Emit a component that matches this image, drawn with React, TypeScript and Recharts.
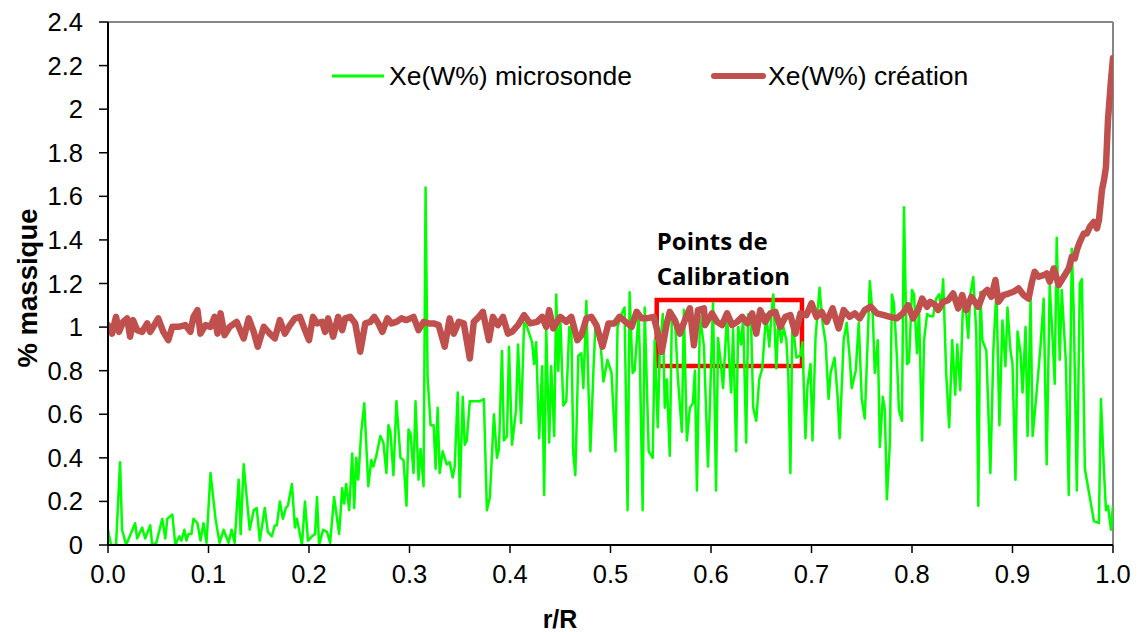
import React from 'react';
import { LineChart, Line, XAxis, YAxis, ReferenceLine, ReferenceArea, Legend } from 'recharts';

// ---- Data ----
const greenX = [
  0.000, 0.003, 0.008, 0.012, 0.014, 0.018, 0.027, 0.029, 0.034, 0.037, 0.042, 0.044, 0.048, 0.054, 0.057, 0.059,
  0.064, 0.067, 0.071, 0.073, 0.076, 0.078, 0.080, 0.083, 0.085, 0.089, 0.092, 0.095, 0.098, 0.102, 0.107, 0.111,
  0.115, 0.120, 0.123, 0.126, 0.130, 0.132, 0.135, 0.141, 0.145, 0.148, 0.151, 0.156, 0.159, 0.163, 0.166, 0.168,
  0.171, 0.174, 0.177, 0.179, 0.183, 0.186, 0.188, 0.193, 0.196, 0.199,
  0.203, 0.206, 0.208, 0.210, 0.214, 0.218, 0.221, 0.225, 0.230, 0.233, 0.235, 0.237, 0.240, 0.243, 0.245, 0.247,
  0.249, 0.252, 0.255, 0.259, 0.262, 0.264, 0.267, 0.271, 0.274, 0.277, 0.279, 0.281, 0.284, 0.287, 0.291, 0.294,
  0.297, 0.299, 0.301, 0.304, 0.306, 0.309, 0.311, 0.314, 0.316, 0.318, 0.321, 0.324, 0.326, 0.328, 0.330, 0.333,
  0.337, 0.340, 0.343, 0.345, 0.348, 0.350, 0.353, 0.355, 0.357, 0.360, 0.370, 0.374, 0.377, 0.380, 0.384, 0.387,
  0.389, 0.392, 0.394, 0.397, 0.399,
  0.402, 0.406, 0.408, 0.411, 0.414, 0.417, 0.422, 0.424, 0.426, 0.429, 0.432, 0.434, 0.436, 0.439, 0.441, 0.444,
  0.446, 0.448, 0.450, 0.453, 0.456, 0.459, 0.461, 0.463, 0.465, 0.468, 0.471, 0.473, 0.476, 0.478, 0.480, 0.483,
  0.485, 0.490, 0.493, 0.497, 0.501, 0.505, 0.507, 0.511, 0.514, 0.517, 0.519, 0.522, 0.524, 0.528, 0.529, 0.532,
  0.534, 0.538, 0.542, 0.544, 0.547, 0.549, 0.552, 0.554, 0.556, 0.559, 0.561, 0.564, 0.567, 0.571, 0.573, 0.576,
  0.579, 0.582, 0.584, 0.586, 0.589, 0.593, 0.597,
  0.602, 0.605, 0.607, 0.610, 0.612, 0.616, 0.618, 0.620, 0.622, 0.625, 0.627, 0.630, 0.632, 0.635, 0.637, 0.640,
  0.642, 0.645, 0.648, 0.651, 0.653, 0.655, 0.658, 0.660, 0.662, 0.665, 0.667, 0.670, 0.672, 0.675, 0.677, 0.679,
  0.681, 0.685, 0.689, 0.691, 0.694, 0.696, 0.699, 0.701, 0.704, 0.708, 0.711, 0.714, 0.717, 0.719, 0.723, 0.726,
  0.728, 0.732, 0.735, 0.738, 0.740, 0.744, 0.747, 0.750, 0.753, 0.756, 0.758, 0.761, 0.763, 0.766, 0.768, 0.771,
  0.773, 0.775, 0.778, 0.780, 0.782, 0.785, 0.787, 0.790, 0.792,
  0.795, 0.797, 0.800, 0.802, 0.805, 0.807, 0.810, 0.812, 0.815, 0.818, 0.821, 0.824, 0.827, 0.829, 0.831, 0.834,
  0.837, 0.840, 0.843, 0.845, 0.848, 0.851, 0.854, 0.856, 0.858, 0.861, 0.864, 0.866, 0.868, 0.870, 0.874, 0.878,
  0.881, 0.884, 0.887, 0.890, 0.893, 0.895, 0.898, 0.900, 0.903, 0.905, 0.908, 0.910, 0.913, 0.915, 0.918, 0.920,
  0.924, 0.928, 0.931, 0.934, 0.937, 0.940, 0.942, 0.944, 0.947, 0.949, 0.953, 0.956, 0.959, 0.961, 0.964, 0.967,
  0.969, 0.972, 0.981, 0.986, 0.988, 0.991, 0.993, 0.995, 0.998, 1.000,
];
const greenY = [
  0.07, 0.00, 0.00, 0.38, 0.07, 0.00, 0.10, 0.03, 0.08, 0.03, 0.09, 0.00, 0.01, 0.12, 0.03, 0.12,
  0.14, 0.00, 0.04, 0.02, 0.07, 0.02, 0.05, 0.05, 0.12, 0.10, 0.02, 0.10, 0.01, 0.33, 0.12, 0.01,
  0.07, 0.01, 0.07, 0.01, 0.30, 0.05, 0.37, 0.07, 0.16, 0.17, 0.02, 0.17, 0.06, 0.04, 0.09, 0.09,
  0.20, 0.12, 0.17, 0.18, 0.28, 0.08, 0.12, 0.00, 0.20, 0.02,
  0.04, 0.05, 0.22, 0.00, 0.07, 0.06, 0.01, 0.22, 0.05, 0.26, 0.19, 0.28, 0.16, 0.42, 0.17, 0.40,
  0.30, 0.52, 0.65, 0.27, 0.39, 0.36, 0.41, 0.50, 0.47, 0.33, 0.55, 0.52, 0.32, 0.66, 0.40, 0.39,
  0.18, 0.53, 0.51, 0.33, 0.66, 0.30, 0.44, 0.27, 1.64, 0.77, 0.55, 0.55, 0.35, 0.63, 0.33, 0.43,
  0.37, 0.38, 0.31, 0.36, 0.70, 0.22, 0.68, 0.46, 0.48, 0.66, 0.66, 0.67, 0.16, 0.22, 0.60, 0.40,
  0.44, 0.89, 0.48, 0.50, 0.91,
  0.46, 0.62, 0.92, 0.56, 1.02, 1.00, 0.93, 0.83, 0.93, 0.49, 0.82, 0.23, 1.00, 0.47, 0.82, 0.50,
  1.15, 0.80, 1.05, 0.64, 0.66, 1.00, 1.00, 0.42, 0.32, 0.87, 0.88, 0.72, 1.12, 0.73, 0.43, 0.80,
  1.01, 0.93, 0.75, 0.85, 0.79, 0.43, 1.00, 1.06, 1.09, 0.16, 1.16, 0.79, 0.80, 1.06, 0.90, 0.16,
  1.09, 0.43, 0.40, 0.94, 0.54, 0.88, 1.06, 0.63, 0.76, 0.41, 1.04, 1.05, 0.77, 0.52, 1.08, 0.48,
  0.63, 0.65, 0.80, 0.25, 1.05, 0.91, 0.36,
  1.11, 0.25, 0.95, 0.82, 0.72, 1.06, 0.86, 0.70, 0.99, 0.43, 1.00, 0.92, 1.05, 0.47, 1.06, 1.00,
  0.63, 0.57, 0.76, 0.81, 0.94, 1.06, 0.91, 1.05, 1.15, 0.81, 1.03, 0.93, 1.00, 0.94, 0.77, 0.33,
  1.03, 0.86, 0.87, 0.93, 0.49, 0.73, 0.83, 0.48, 0.95, 1.18, 1.02, 0.93, 0.67, 0.79, 0.86, 0.68,
  0.49, 0.94, 1.02, 0.86, 0.72, 0.80, 1.02, 0.67, 0.58, 0.95, 1.21, 1.05, 0.79, 0.94, 0.45, 0.68,
  0.62, 0.21, 0.47, 1.15, 1.11, 0.86, 0.62, 0.57, 1.55,
  0.83, 0.84, 1.17, 1.15, 0.88, 1.08, 0.48, 0.94, 1.06, 1.05, 1.05, 1.13, 1.15, 1.08, 1.22, 0.79,
  0.54, 0.94, 0.69, 0.92, 0.71, 1.15, 1.06, 0.95, 1.15, 1.23, 0.97, 0.18, 1.16, 0.94, 0.89, 0.33,
  0.90, 1.17, 0.55, 1.03, 0.82, 1.09, 0.89, 0.83, 0.30, 0.98, 0.88, 0.70, 1.00, 0.50, 1.13, 0.50,
  0.70, 0.92, 1.13, 0.37, 1.19, 0.94, 0.74, 1.41, 0.85, 1.17, 0.85, 0.23, 1.36, 1.06, 0.25, 1.20,
  1.22, 0.35, 0.11, 0.10, 0.67, 0.34, 0.16, 0.18, 0.07, 0.18,
];

const brownX = [
  0.000, 0.004, 0.008, 0.011, 0.015, 0.019, 0.022, 0.025, 0.029, 0.034, 0.039, 0.042, 0.045, 0.050, 0.055, 0.060,
  0.064, 0.070, 0.077, 0.082, 0.085, 0.089, 0.092, 0.097, 0.102, 0.106, 0.109, 0.112, 0.116, 0.121, 0.128, 0.135,
  0.140, 0.145, 0.149, 0.155, 0.161, 0.166, 0.171, 0.176, 0.181, 0.186, 0.191, 0.196, 0.200,
  0.204, 0.208, 0.213, 0.216, 0.219, 0.224, 0.229, 0.233, 0.236, 0.241, 0.246, 0.251, 0.256, 0.261, 0.265, 0.269,
  0.273, 0.278, 0.282, 0.287, 0.292, 0.297, 0.304, 0.309, 0.314, 0.319, 0.324, 0.329, 0.335, 0.340, 0.344, 0.349,
  0.354, 0.360, 0.364, 0.369, 0.373, 0.379, 0.383, 0.388, 0.393, 0.398,
  0.402, 0.408, 0.414, 0.420, 0.427, 0.432, 0.436, 0.439, 0.443, 0.450, 0.456, 0.461, 0.467, 0.471, 0.476, 0.481,
  0.486, 0.492, 0.498, 0.504, 0.509, 0.515, 0.521, 0.526, 0.531, 0.536, 0.543, 0.546, 0.551, 0.556, 0.559, 0.564,
  0.569, 0.574, 0.579, 0.583, 0.587, 0.593,
  0.594, 0.601, 0.606, 0.611, 0.616, 0.621, 0.626, 0.631, 0.636, 0.641, 0.645, 0.649, 0.654, 0.659, 0.664, 0.669,
  0.674, 0.679, 0.684, 0.689, 0.695, 0.700, 0.705, 0.710, 0.715, 0.721, 0.727, 0.732, 0.738, 0.743, 0.748, 0.753,
  0.759, 0.765, 0.772, 0.778, 0.785, 0.791,
  0.793, 0.796, 0.801, 0.806, 0.810, 0.815, 0.818, 0.823, 0.826, 0.831, 0.836, 0.841, 0.846, 0.850, 0.854, 0.859,
  0.866, 0.871, 0.875, 0.879, 0.883, 0.886, 0.891, 0.896, 0.901, 0.906, 0.911, 0.916, 0.919, 0.922, 0.926, 0.931,
  0.934, 0.937, 0.941, 0.946, 0.951, 0.956, 0.959, 0.962, 0.964, 0.967, 0.971, 0.974, 0.977, 0.981, 0.984, 0.986,
  0.989, 0.991, 0.993, 0.995, 0.998, 1.000,
];
const brownY = [
  1.009, 0.970, 1.047, 0.978, 1.024, 1.040, 0.956, 1.032, 0.986, 0.978, 1.017, 0.978, 1.001, 1.040, 0.978, 0.940,
  1.001, 1.001, 1.009, 0.978, 1.047, 1.078, 0.970, 1.009, 1.001, 1.047, 0.970, 1.063, 0.963, 1.001, 1.024, 0.948,
  1.040, 0.978, 0.910, 1.001, 0.970, 0.948, 1.032, 0.970, 1.009, 1.040, 1.047, 0.986, 0.940,
  1.047, 1.017, 1.024, 0.978, 1.040, 0.956, 1.047, 0.986, 1.040, 1.047, 1.017, 0.887, 1.017, 1.024, 1.047, 1.017,
  0.978, 1.040, 1.017, 1.024, 1.040, 1.032, 1.047, 0.986, 1.024, 1.017, 1.017, 1.009, 0.910, 1.040, 0.970, 1.024,
  1.017, 0.856, 1.024, 1.047, 1.070, 0.940, 1.047, 1.009, 1.047, 0.970,
  0.978, 1.009, 1.055, 1.017, 1.024, 1.047, 1.001, 1.078, 0.994, 1.047, 1.024, 1.047, 0.940, 0.963, 1.040, 1.047,
  1.009, 0.910, 1.017, 1.017, 1.047, 1.024, 1.001, 1.070, 1.040, 1.040, 1.047, 0.994, 0.887, 1.017, 1.070, 1.032,
  0.970, 1.032, 1.086, 0.917, 1.078, 1.086,
  1.009, 1.063, 1.024, 1.009, 1.063, 1.009, 1.024, 1.047, 1.017, 1.063, 0.970, 1.078, 1.024, 1.063, 1.070, 1.001,
  1.047, 1.055, 0.970, 1.063, 1.055, 1.109, 1.047, 1.070, 1.024, 1.086, 0.994, 1.078, 1.047, 1.063, 1.040, 1.078,
  1.094, 1.063, 1.055, 1.047, 1.040, 1.063,
  1.078, 1.101, 1.040, 1.078, 1.131, 1.093, 1.116, 1.101, 1.078, 1.116, 1.124, 1.154, 1.086, 1.147, 1.078, 1.139,
  1.093, 1.154, 1.170, 1.139, 1.216, 1.116, 1.147, 1.154, 1.162, 1.177, 1.147, 1.131, 1.200, 1.254, 1.231, 1.238,
  1.246, 1.208, 1.269, 1.193, 1.231, 1.269, 1.322, 1.315, 1.353, 1.391, 1.430, 1.430, 1.460, 1.483, 1.453, 1.491,
  1.628, 1.674, 1.735, 1.950, 2.133, 2.235,
];

const xTicks = [0, 0.1, 0.2, 0.3, 0.4, 0.5, 0.6, 0.7, 0.8, 0.9, 1.0];
const yTicks = [0, 0.2, 0.4, 0.6, 0.8, 1, 1.2, 1.4, 1.6, 1.8, 2, 2.2, 2.4];

const seriesNames = ['Xe(W%) microsonde', 'Xe(W%) création'];
const calibrationLines = ['Points de', 'Calibration'];
const calibrationBox = { x1: 0.546, x2: 0.6905, y1: 0.821, y2: 1.124 };

const greenData = greenX.map((x, i) => ({ x, y: greenY[i] }));
const brownData = brownX.map((x, i) => ({ x, y: brownY[i] }));

const GREEN = '#00FF00';
const BROWN = '#C0504D';
const AXIS_FONT = '"Liberation Sans", Arial, sans-serif';

const renderLegend = () => (
  <div style={{ position: 'relative', width: 720, height: 32, fontFamily: AXIS_FONT, fontSize: 26.5, color: '#000' }}>
    <div style={{ position: 'absolute', left: 0, top: 0, display: 'flex', alignItems: 'center', height: 32 }}>
      <svg width={56} height={32}>
        <line x1={1} y1={16} x2={53} y2={16} stroke={GREEN} strokeWidth={3} />
      </svg>
      <span style={{ whiteSpace: 'nowrap', marginLeft: 2 }}>{seriesNames[0]}</span>
    </div>
    <div style={{ position: 'absolute', left: 379, top: 0, display: 'flex', alignItems: 'center', height: 32 }}>
      <svg width={58} height={32}>
        <line x1={4} y1={16} x2={53} y2={16} stroke={BROWN} strokeWidth={6} strokeLinecap="round" />
      </svg>
      <span style={{ whiteSpace: 'nowrap', marginLeft: 0 }}>{seriesNames[1]}</span>
    </div>
  </div>
);

export default function App() {
  return (
    <div style={{ position: 'absolute', left: 0, top: 0, width: 1140, height: 632, background: '#fff' }}>
      <LineChart width={1140} height={632} margin={{ top: 22, right: 27, bottom: 0, left: 0 }}>
        <XAxis
          type="number"
          dataKey="x"
          domain={[0, 1]}
          ticks={xTicks}
          allowDataOverflow
          tickFormatter={(v: number) => v.toFixed(1)}
          height={87}
          tickSize={8}
          tickMargin={12}
          axisLine={{ stroke: '#000', strokeWidth: 2 }}
          tickLine={{ stroke: '#000', strokeWidth: 1.5 }}
          tick={{ fill: '#000', fontSize: 25.5, fontFamily: AXIS_FONT }}
          label={() => (
            <text x={560} y={628} textAnchor="middle" fontFamily={AXIS_FONT} fontWeight="bold" fontSize={25} fill="#000">
              r/R
            </text>
          )}
        />
        <YAxis
          type="number"
          domain={[0, 2.4]}
          ticks={yTicks}
          allowDataOverflow
          width={108}
          tickSize={9}
          tickMargin={16}
          axisLine={{ stroke: '#000', strokeWidth: 2 }}
          tickLine={{ stroke: '#000', strokeWidth: 1.5 }}
          tick={{ fill: '#000', fontSize: 25.5, fontFamily: AXIS_FONT }}
          label={() => (
            <text
              x={27}
              y={288}
              transform="rotate(-90 27 288)"
              textAnchor="middle"
              dominantBaseline="central"
              fontFamily={AXIS_FONT}
              fontWeight="bold"
              fontSize={27.5}
              fill="#000"
            >
              % massique
            </text>
          )}
        />
        <ReferenceLine y={2.4} stroke="#868686" strokeWidth={2} />
        <ReferenceLine x={1} stroke="#868686" strokeWidth={2} />
        <Legend
          layout="horizontal"
          verticalAlign="middle"
          align="center"
          content={renderLegend}
          wrapperStyle={{ top: 60, left: 331, width: 720, height: 32 }}
        />
        <Line
          data={greenData}
          dataKey="y"
          name={seriesNames[0]}
          stroke={GREEN}
          strokeWidth={2.5}
          dot={false}
          activeDot={false}
          strokeLinejoin="round"
          isAnimationActive={false}
        />
        <Line
          data={brownData}
          dataKey="y"
          name={seriesNames[1]}
          stroke={BROWN}
          strokeWidth={6.5}
          dot={false}
          activeDot={false}
          strokeLinejoin="round"
          strokeLinecap="round"
          isAnimationActive={false}
        />
        <ReferenceArea
          x1={calibrationBox.x1}
          x2={calibrationBox.x2}
          y1={calibrationBox.y1}
          y2={calibrationBox.y2}
          fill="none"
          fillOpacity={0}
          stroke="#FF0000"
          strokeWidth={4.5}
          ifOverflow="visible"
          label={(props: any) => {
            const vb = props.viewBox || { x: 657, y: 300 };
            return (
              <g>
                <text x={vb.x} y={vb.y - 50} fontFamily='"Open Sans", sans-serif' fontWeight="bold" fontSize={24} fill="#000">
                  {calibrationLines[0]}
                </text>
                <text x={vb.x} y={vb.y - 15} fontFamily='"Open Sans", sans-serif' fontWeight="bold" fontSize={24} fill="#000">
                  {calibrationLines[1]}
                </text>
              </g>
            );
          }}
        />
      </LineChart>
    </div>
  );
}
